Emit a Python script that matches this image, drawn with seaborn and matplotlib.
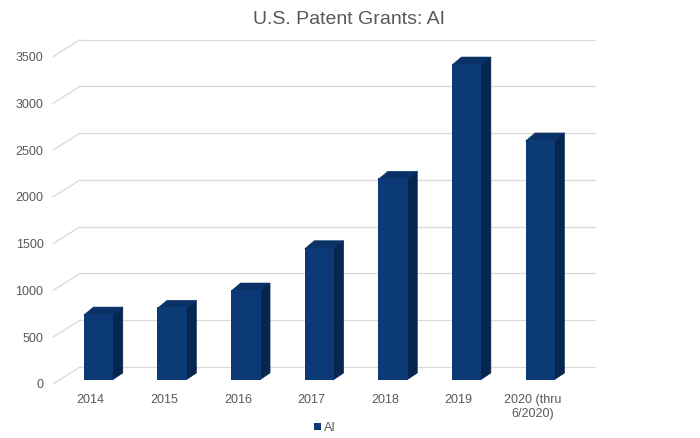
import numpy as np
import pandas as pd
import matplotlib
matplotlib.use("Agg")
import matplotlib.pyplot as plt
import matplotlib.transforms as mtransforms
from matplotlib.patches import Polygon, Patch
import seaborn as sns

# ---- data ----
categories = ["2014", "2015", "2016", "2017", "2018", "2019", "2020 (thru\n6/2020)"]
grants = [705, 777, 962, 1414, 2156, 3378, 2566]
series_name = "AI"
title = "U.S. Patent Grants: AI"
yticks = [0, 500, 1000, 1500, 2000, 2500, 3000, 3500]

df = pd.DataFrame({"year": categories, "grants": grants, "series": series_name})

sns.set_theme(style="white")
plt.rcParams["font.family"] = ["Liberation Sans", "DejaVu Sans"]

FRONT = "#0B3A76"
SIDE = "#06264F"
TOP = "#0A3266"
GRID = "#D9D9D9"
TXT = "#595959"

W, H = 700, 438
fig = plt.figure(figsize=(7, 4.38), dpi=100)
ax = fig.add_axes([61.8 / W, 58 / H, 515.3 / W, 327.4 / H])

sns.barplot(data=df, x="year", y="grants", hue="series", palette=[FRONT],
            width=0.4, ax=ax, linewidth=0, saturation=1, legend=False, zorder=4)
ax.set_xlim(-0.5, len(categories) - 0.5)
ax.set_ylim(0, 3500)
ax.set_yticks(yticks)
ax.set_xlabel("")
ax.set_ylabel("")
for s in ax.spines.values():
    s.set_visible(False)
ax.tick_params(axis="both", length=0, labelsize=9, labelcolor=TXT)
ax.tick_params(axis="y", pad=13.2)
ax.tick_params(axis="x", pad=10)
ax.patch.set_alpha(0)

px = lambda v: v / 100.0
dpi_t = fig.dpi_scale_trans

def to_data(pts_disp):
    return ax.transData.inverted().transform(pts_disp)

# ---- back wall & side wall grid ----
wall_dx, wall_dy = 18.2, 13.0
front_dx, front_dy = -8.8, -4.0
x0, x1 = ax.get_xlim()
for v in yticks:
    a = ax.transData.transform([(x0, v), (x1, v)])
    back = a + np.array([wall_dx, wall_dy])
    pts = to_data(back)
    ax.plot(pts[:, 0], pts[:, 1], color=GRID, lw=0.9, zorder=1, clip_on=False)
    side = np.array([a[0] + [front_dx, front_dy], a[0] + [wall_dx, wall_dy]])
    pts = to_data(side)
    ax.plot(pts[:, 0], pts[:, 1], color=GRID, lw=0.9, zorder=1, clip_on=False)

# ---- 3D faces of bars ----
bdx, bdy = 9.5, 7.0
for bar in list(ax.patches):
    bx, by = bar.get_x(), bar.get_y()
    bw, bh = bar.get_width(), bar.get_height()
    c = ax.transData.transform([(bx, by), (bx + bw, by), (bx + bw, by + bh), (bx, by + bh)])
    bl, br, tr, tl = c
    off = np.array([bdx, bdy])
    side = to_data(np.array([br + [-1, 0], br + off, tr + off, tr + [-1, 0]]))
    top = to_data(np.array([tl + [0, -1], tr + [0, -1], tr + off, tl + off]))
    ax.add_patch(Polygon(side, closed=True, facecolor=SIDE, edgecolor=SIDE, lw=0.4,
                         zorder=3, clip_on=False))
    ax.add_patch(Polygon(top, closed=True, facecolor=TOP, edgecolor=TOP, lw=0.4,
                         zorder=3, clip_on=False))

# shift tick labels to the front plane
for t in ax.yaxis.get_major_ticks():
    t.label1.set_transform(t.label1.get_transform() + mtransforms.ScaledTranslation(0, px(-4), dpi_t))
for t in ax.xaxis.get_major_ticks():
    t.label1.set_transform(t.label1.get_transform() + mtransforms.ScaledTranslation(px(-8), 0, dpi_t))
    t.label1.set_multialignment("center")

# ---- title & legend ----
fig.text(349 / W, 1 - 19 / H, title, ha="center", va="center", fontsize=14, color=TXT)
handles = [Patch(facecolor=FRONT, edgecolor="none", label=series_name)]
fig.legend(handles=handles, loc="center", bbox_to_anchor=(325 / W, 1 - 428 / H),
           frameon=False, fontsize=9, handlelength=0.55, handleheight=0.55,
           handletextpad=0.3, labelcolor=TXT)

fig.savefig("out.png", dpi=100)
